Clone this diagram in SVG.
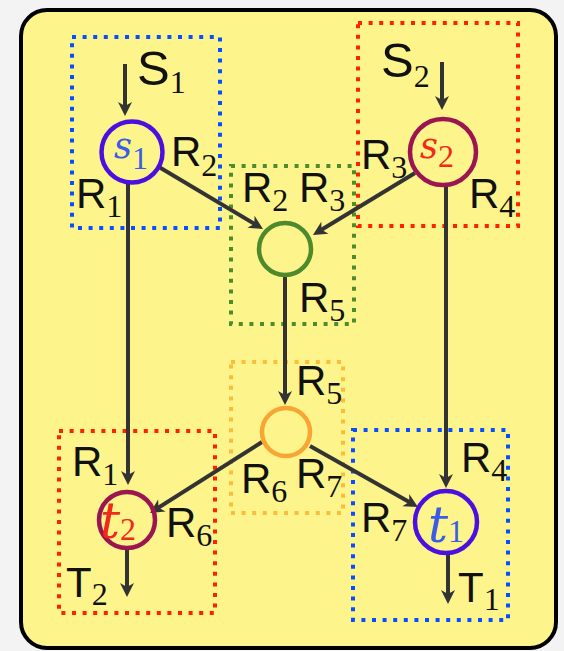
<svg xmlns="http://www.w3.org/2000/svg" width="564" height="651" viewBox="0 0 564 651">
<style>
.lab{font-family:"Liberation Sans",Arial,sans-serif;font-size:42px;fill:#111}
.big{font-size:49px}
.sub{font-family:"Liberation Serif","Times New Roman",serif;font-size:32px}
.ni{font-family:"DejaVu Serif","Liberation Serif",serif;font-style:italic;font-size:35px}
.nt{font-size:50px}
.nsub{font-family:"Liberation Serif","Times New Roman",serif;font-style:normal;font-size:32px}
.blu{fill:#3a5ce6}
.red{fill:#f02a1a}
.box{fill:none;stroke-width:4;stroke-dasharray:4 6.6}
.node{fill:none;stroke-width:4.5}
.edge{fill:none;stroke:#333;stroke-width:4}
</style>
<defs>
<marker id="ah" markerUnits="userSpaceOnUse" viewBox="-8 -9 18 18" refX="0" refY="0" markerWidth="18" markerHeight="18" orient="auto">
<path d="M8,0 L-6,-7 L-2,0 L-6,7 Z" fill="#333"/>
</marker>
</defs>
<rect x="0" y="0" width="564" height="651" fill="#f3f3f3"/>
<rect x="21" y="10" width="535" height="638" rx="26" fill="#fdf58b" stroke="#000" stroke-width="4"/>

<g id="boxes">
<rect class="box" x="72" y="37" width="148" height="191" stroke="#0a4cff"/>
<rect class="box" x="358" y="23" width="160" height="203" stroke="#ff2200"/>
<rect class="box" x="231" y="166" width="123" height="158" stroke="#4c8c2b"/>
<rect class="box" x="231" y="362" width="112" height="151" stroke="#fbbd3a"/>
<rect class="box" x="59" y="431" width="156" height="182" stroke="#ff2200"/>
<rect class="box" x="353" y="430" width="155" height="190" stroke="#0a4cff"/>
</g>

<g id="connectors">
<line class="edge" x1="125" y1="64" x2="125" y2="108" marker-end="url(#ah)"/>
<line class="edge" x1="442" y1="62" x2="442" y2="102" marker-end="url(#ah)"/>
<line class="edge" x1="128" y1="184" x2="128" y2="477" marker-end="url(#ah)"/>
<line class="edge" x1="159" y1="167" x2="256.1" y2="224.9" marker-end="url(#ah)"/>
<line class="edge" x1="415" y1="173" x2="319.8" y2="230.8" marker-end="url(#ah)"/>
<line class="edge" x1="446" y1="186" x2="446" y2="480" marker-end="url(#ah)"/>
<line class="edge" x1="285" y1="276" x2="285" y2="397" marker-end="url(#ah)"/>
<line class="edge" x1="262" y1="442" x2="156.8" y2="508.7" marker-end="url(#ah)"/>
<line class="edge" x1="310" y1="446" x2="411" y2="503.1" marker-end="url(#ah)"/>
<line class="edge" x1="448" y1="555" x2="448" y2="596" marker-end="url(#ah)"/>
<line class="edge" x1="127" y1="550" x2="127" y2="589" marker-end="url(#ah)"/>
</g>

<g id="s1">
<circle class="node" cx="132" cy="152" r="30.5" stroke="#4b0fe0"/>
<text class="ni blu" x="114" y="158">s<tspan class="nsub" dy="11">1</tspan></text>
</g>
<g id="s2">
<circle class="node" cx="443" cy="152" r="33" stroke="#9b1650"/>
<text class="ni red" x="420" y="158">s<tspan class="nsub" dy="9">2</tspan></text>
</g>
<g id="mid1">
<circle class="node" cx="285" cy="249" r="26" stroke="#4e8a2c"/>
</g>
<g id="mid2">
<circle class="node" cx="286" cy="432" r="24" stroke="#f8a534"/>
</g>
<g id="t2">
<circle class="node" cx="127" cy="520" r="28" stroke="#9b1650"/>
<text class="ni nt red" x="100" y="538">t<tspan class="nsub" dy="2">2</tspan></text>
</g>
<g id="t1">
<circle class="node" cx="446" cy="522" r="31" stroke="#4b0fe0"/>
<text class="ni nt blu" x="428" y="542">t<tspan class="nsub" dy="0">1</tspan></text>
</g>

<g id="labels">
<text class="lab big" x="137" y="85">S<tspan class="sub" dy="8">1</tspan></text>
<text class="lab big" x="381" y="77">S<tspan class="sub" dy="10">2</tspan></text>
<text class="lab" x="171" y="166">R<tspan class="sub" dy="10">2</tspan></text>
<text class="lab" x="76" y="208">R<tspan class="sub" dy="9">1</tspan></text>
<text class="lab" x="361" y="169">R<tspan class="sub" dy="9">3</tspan></text>
<text class="lab" x="469" y="208">R<tspan class="sub" dy="9">4</tspan></text>
<text class="lab" x="242" y="202">R<tspan class="sub" dy="9">2</tspan></text>
<text class="lab" x="299" y="202">R<tspan class="sub" dy="9">3</tspan></text>
<text class="lab" x="299" y="312">R<tspan class="sub" dy="9">5</tspan></text>
<text class="lab" x="296" y="395">R<tspan class="sub" dy="9">5</tspan></text>
<text class="lab" x="241" y="493">R<tspan class="sub" dy="9">6</tspan></text>
<text class="lab" x="296" y="488">R<tspan class="sub" dy="9">7</tspan></text>
<text class="lab" x="72" y="476">R<tspan class="sub" dy="9">1</tspan></text>
<text class="lab" x="166" y="537">R<tspan class="sub" dy="9">6</tspan></text>
<text class="lab" x="461" y="472">R<tspan class="sub" dy="9">4</tspan></text>
<text class="lab" x="361" y="532">R<tspan class="sub" dy="9">7</tspan></text>
<text class="lab" x="66" y="597">T<tspan class="sub" dy="8">2</tspan></text>
<text class="lab" x="458" y="602">T<tspan class="sub" dy="8">1</tspan></text>
</g>
</svg>
